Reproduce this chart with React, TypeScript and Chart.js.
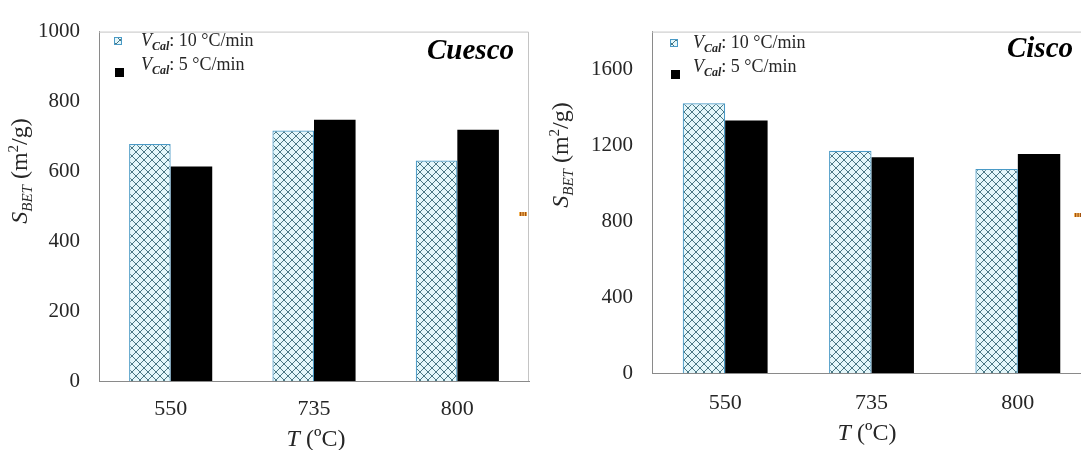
import React, { useEffect, useRef } from 'react';
import { Chart, registerables } from 'chart.js';

Chart.register(...registerables);

// ---------- data ----------
const categories = ['550', '735', '800'];
const cuescoRate10 = [678, 717, 631];
const cuescoRate5 = [614, 748, 719];
const ciscoRate10 = [1422, 1172, 1075];
const ciscoRate5 = [1331, 1138, 1155];
const cuescoTicks = [0, 200, 400, 600, 800, 1000];
const ciscoTicks = [0, 400, 800, 1200, 1600];
const legendRates = ['10 °C/min', '5 °C/min'];
const panelTitles = ['Cuesco', 'Cisco'];

const SERIF = '"Liberation Serif", "Times New Roman", serif';
const TEXT = '#262626';
const HATCH_BORDER = '#4a9ac6';
const AXIS = '#8a8a8a';
const FRAME = '#c4c4c4';

type Seg = { t: string; f: string; dy?: number };

function drawRich(ctx: CanvasRenderingContext2D, segs: Seg[], x: number, y: number, align: 'left' | 'center' | 'right') {
  let total = 0;
  for (const s of segs) {
    ctx.font = s.f;
    total += ctx.measureText(s.t).width;
  }
  let cx = align === 'center' ? x - total / 2 : align === 'right' ? x - total : x;
  ctx.textAlign = 'left';
  ctx.textBaseline = 'alphabetic';
  for (const s of segs) {
    ctx.font = s.f;
    ctx.fillText(s.t, cx, y + (s.dy || 0));
    cx += ctx.measureText(s.t).width;
  }
}

function makeHatch(ctx: CanvasRenderingContext2D): CanvasPattern | string {
  const c = document.createElement('canvas');
  c.width = 8;
  c.height = 8;
  const g = c.getContext('2d');
  if (!g) return '#e3f6fa';
  g.fillStyle = '#e4f7fb';
  g.fillRect(0, 0, 8, 8);
  g.strokeStyle = '#4a7784';
  g.lineWidth = 1;
  g.beginPath();
  g.moveTo(0, 0);
  g.lineTo(8, 8);
  g.moveTo(8, 0);
  g.lineTo(0, 8);
  g.stroke();
  return ctx.createPattern(c, 'repeat') || '#e3f6fa';
}

type PanelCfg = {
  left: number;
  width: number;
  area: { left: number; top: number; right: number; bottom: number };
  values10: number[];
  values5: number[];
  ticks: number[];
  yMax: number;
  title: string;
  titleRight: number;
  titleBaseline: number;
  yTitleX: number;
  yTitleY: number;
  xTitleX: number;
  xTitleBaseline: number;
  legendTextX: number;
  legendBase: number;
  markerX: number;
  xTickPadding: number;
  yTickPadding: number;
  mark: { x: number; y: number };
};

const panels: PanelCfg[] = [
  {
    left: 0,
    width: 540,
    area: { left: 99, top: 21, right: 529, bottom: 381 },
    values10: cuescoRate10,
    values5: cuescoRate5,
    ticks: cuescoTicks,
    yMax: 1000,
    title: panelTitles[0],
    titleRight: 514,
    titleBaseline: 59,
    yTitleX: 27,
    yTitleY: 171,
    xTitleX: 316,
    xTitleBaseline: 446,
    legendTextX: 141,
    legendBase: 46,
    markerX: 114,
    xTickPadding: 15,
    yTickPadding: 19,
    mark: { x: 519, y: 212 },
  },
  {
    left: 540,
    width: 560,
    area: { left: 112, top: 26, right: 551, bottom: 373 },
    values10: ciscoRate10,
    values5: ciscoRate5,
    ticks: ciscoTicks,
    yMax: 1800,
    title: panelTitles[1],
    titleRight: 533,
    titleBaseline: 57,
    yTitleX: 28,
    yTitleY: 155,
    xTitleX: 327,
    xTitleBaseline: 440,
    legendTextX: 153,
    legendBase: 48,
    markerX: 130,
    xTickPadding: 17,
    yTickPadding: 19,
    mark: { x: 534, y: 213 },
  },
];

function Panel({ cfg }: { cfg: PanelCfg }) {
  const ref = useRef<HTMLCanvasElement | null>(null);

  useEffect(() => {
    const canvas = ref.current;
    if (!canvas) return;
    const ctx = canvas.getContext('2d');
    if (!ctx) return;
    const hatch = makeHatch(ctx);

    const decor = {
      id: 'decor',
      afterDraw(chart: Chart) {
        const c = chart.ctx;
        const a = chart.chartArea;
        c.save();
        // top and right frame
        c.strokeStyle = FRAME;
        c.lineWidth = 1;
        c.beginPath();
        c.moveTo(a.left, a.top + 0.5);
        c.lineTo(a.right - 0.5, a.top + 0.5);
        c.lineTo(a.right - 0.5, a.bottom);
        c.stroke();

        // panel title
        c.fillStyle = '#000';
        drawRich(c, [{ t: cfg.title, f: `italic bold 29px ${SERIF}` }], cfg.titleRight, cfg.titleBaseline, 'right');

        // legend
        c.fillStyle = TEXT;
        legendRates.forEach((r, i) => {
          const base = cfg.legendBase + i * 24;
          drawRich(
            c,
            [
              { t: 'V', f: `italic 18px ${SERIF}` },
              { t: 'Cal', f: `italic bold 12px ${SERIF}`, dy: 4 },
              { t: ': ' + r, f: `18px ${SERIF}` },
            ],
            cfg.legendTextX,
            base,
            'left'
          );
        });
        // legend markers
        c.fillStyle = hatch as any;
        c.fillRect(cfg.markerX, cfg.legendBase - 9, 7, 7);
        c.strokeStyle = HATCH_BORDER;
        c.lineWidth = 1;
        c.strokeRect(cfg.markerX + 0.5, cfg.legendBase - 8.5, 7, 7);
        c.fillStyle = '#000';
        c.fillRect(cfg.markerX + 1, cfg.legendBase + 22, 9, 9);

        // y title (rotated)
        c.fillStyle = TEXT;
        c.translate(cfg.yTitleX, cfg.yTitleY);
        c.rotate(-Math.PI / 2);
        drawRich(
          c,
          [
            { t: 'S', f: `italic 24px ${SERIF}` },
            { t: 'BET', f: `italic 15px ${SERIF}`, dy: 5 },
            { t: ' (m', f: `24px ${SERIF}` },
            { t: '2', f: `15px ${SERIF}`, dy: -9 },
            { t: '/g)', f: `24px ${SERIF}` },
          ],
          0,
          0,
          'center'
        );
        c.setTransform(1, 0, 0, 1, 0, 0);

        // x title
        drawRich(
          c,
          [
            { t: 'T', f: `italic 24px ${SERIF}` },
            { t: ' (ºC)', f: `24px ${SERIF}` },
          ],
          cfg.xTitleX,
          cfg.xTitleBaseline,
          'center'
        );

        // small orange mark at the right edge
        c.fillStyle = '#f2b35a';
        c.fillRect(cfg.mark.x, cfg.mark.y, 8, 4);
        c.fillStyle = '#a4530f';
        for (let k = 0; k < 3; k++) c.fillRect(cfg.mark.x + 1 + k * 2.5, cfg.mark.y, 1.2, 4);
        c.restore();
      },
    };

    const chart = new Chart(canvas, {
      type: 'bar',
      data: {
        labels: categories,
        datasets: [
          {
            label: 'VCal: ' + legendRates[0],
            data: cfg.values10,
            backgroundColor: hatch as any,
            borderColor: HATCH_BORDER,
            borderWidth: 1.2,
            barPercentage: 1,
            categoryPercentage: 0.58,
          },
          {
            label: 'VCal: ' + legendRates[1],
            data: cfg.values5,
            backgroundColor: '#000000',
            borderColor: '#000000',
            borderWidth: 0,
            barPercentage: 1,
            categoryPercentage: 0.58,
          },
        ],
      },
      options: {
        responsive: false,
        animation: false,
        events: [],
        layout: {
          padding: {
            left: 0,
            top: cfg.area.top,
            right: cfg.width - cfg.area.right,
            bottom: 0,
          },
        },
        plugins: {
          legend: { display: false },
          title: { display: false },
          tooltip: { enabled: false },
        },
        scales: {
          x: {
            grid: { display: false, drawTicks: false },
            border: { display: true, color: AXIS, width: 1 },
            ticks: {
              color: TEXT,
              font: { family: SERIF, size: 22 },
              padding: cfg.xTickPadding,
            },
            afterFit: (s: any) => {
              s.height = 450 - cfg.area.bottom;
            },
          },
          y: {
            min: 0,
            max: cfg.yMax,
            grid: { display: false, drawTicks: false },
            border: { display: true, color: AXIS, width: 1 },
            afterBuildTicks: (s: any) => {
              s.ticks = cfg.ticks.map((v) => ({ value: v }));
            },
            ticks: {
              color: TEXT,
              font: { family: SERIF, size: 21 },
              padding: cfg.yTickPadding,
              callback: (v: any) => String(v),
            },
            afterFit: (s: any) => {
              s.width = cfg.area.left;
            },
          },
        },
      },
      plugins: [decor],
    });

    return () => {
      chart.destroy();
    };
  }, [cfg]);

  return (
    <canvas
      ref={ref}
      width={cfg.width}
      height={450}
      style={{ position: 'absolute', left: cfg.left, top: 0, width: cfg.width, height: 450, display: 'block' }}
    />
  );
}

export default function App() {
  return (
    <div
      style={{
        position: 'fixed',
        left: 0,
        top: 0,
        width: 1081,
        height: 450,
        overflow: 'hidden',
        background: '#ffffff',
      }}
    >
      {panels.map((p, i) => (
        <Panel key={i} cfg={p} />
      ))}
    </div>
  );
}
